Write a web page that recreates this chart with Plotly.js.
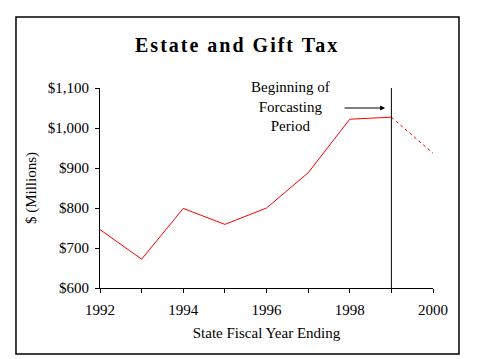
<!DOCTYPE html>
<html>
<head>
<meta charset="utf-8">
<script src="https://cdn.plot.ly/plotly-3.0.1.min.js"></script>
<style>
html,body{margin:0;padding:0;background:#fff;}
#chart{width:479px;height:359px;}
.gtitle{letter-spacing:2px;}
</style>
</head>
<body>
<div id="chart"></div>
<script>
// Data
const actualYears = [1992, 1993, 1994, 1995, 1996, 1997, 1998, 1999];
const actualValues = [746, 672, 799, 759, 800, 888, 1022, 1027];
const forecastYears = [1999, 2000];
const forecastValues = [1027, 937];
const xTickVals = [1992, 1993, 1994, 1995, 1996, 1997, 1998, 1999, 2000];
const xTickText = ['1992', '', '1994', '', '1996', '', '1998', '', '2000'];
const yTickVals = [600, 700, 800, 900, 1000, 1100];
const yTickText = ['$600', '$700', '$800', '$900', '$1,000', '$1,100'];
const forecastStart = 1999;

const serif = 'Liberation Serif, Times New Roman, serif';

const traces = [
  {x: actualYears, y: actualValues, type: 'scatter', mode: 'lines',
   line: {color: '#ff0000', width: 1}, hoverinfo: 'skip'},
  {x: forecastYears, y: forecastValues, type: 'scatter', mode: 'lines',
   line: {color: '#ff0000', width: 1, dash: 'dot'}, hoverinfo: 'skip'}
];

const layout = {
  width: 479, height: 359,
  margin: {l: 100, r: 46, t: 88, b: 71},
  paper_bgcolor: '#fff', plot_bgcolor: '#fff',
  showlegend: false,
  font: {family: serif, color: '#000', size: 15},
  title: {text: '<b>Estate and Gift Tax</b>', font: {family: serif, size: 20, color: '#000'},
          x: 0.495, xanchor: 'center', y: 0.875, yanchor: 'middle', xref: 'container', yref: 'container'},
  xaxis: {range: [1992, 2000], tickvals: xTickVals, ticktext: xTickText,
          showline: true, linecolor: '#000', linewidth: 1, ticks: 'outside', ticklen: 4, tickcolor: '#000',
          showgrid: false, zeroline: false, tickfont: {family: serif, size: 15}, ticklabelstandoff: 4,
          title: {text: 'State Fiscal Year Ending', font: {family: serif, size: 15}, standoff: 10}},
  yaxis: {range: [600, 1100], tickvals: yTickVals, ticktext: yTickText,
          showline: true, linecolor: '#000', linewidth: 1, ticks: 'outside', ticklen: 4, tickcolor: '#000',
          showgrid: false, zeroline: false, tickfont: {family: serif, size: 15}, ticklabelstandoff: 3,
          title: {text: '$ (Millions)', font: {family: serif, size: 15}, standoff: 7}},
  shapes: [
    {type: 'line', xref: 'x', yref: 'y', x0: forecastStart, x1: forecastStart, y0: 600, y1: 1100,
     line: {color: '#000', width: 1}},
    {type: 'rect', xref: 'paper', yref: 'paper', x0: -0.2523, x1: 1.078, y0: -0.33, y1: 1.355,
     line: {color: '#000', width: 1.5}, fillcolor: 'rgba(0,0,0,0)'}
  ],
  annotations: [
    {x: 1996.57, y: 1055, xref: 'x', yref: 'y', text: 'Beginning of<br>Forcasting<br>Period',
     showarrow: false, align: 'center', font: {family: serif, size: 15, color: '#000'}},
    {x: 1998.85, y: 1050, xref: 'x', yref: 'y', ax: 1997.84, ay: 1050, axref: 'x', ayref: 'y',
     text: '', showarrow: true, arrowhead: 2, arrowsize: 1, arrowwidth: 1, arrowcolor: '#000'}
  ]
};

Plotly.newPlot('chart', traces, layout, {staticPlot: true, displayModeBar: false});
</script>
</body>
</html>
